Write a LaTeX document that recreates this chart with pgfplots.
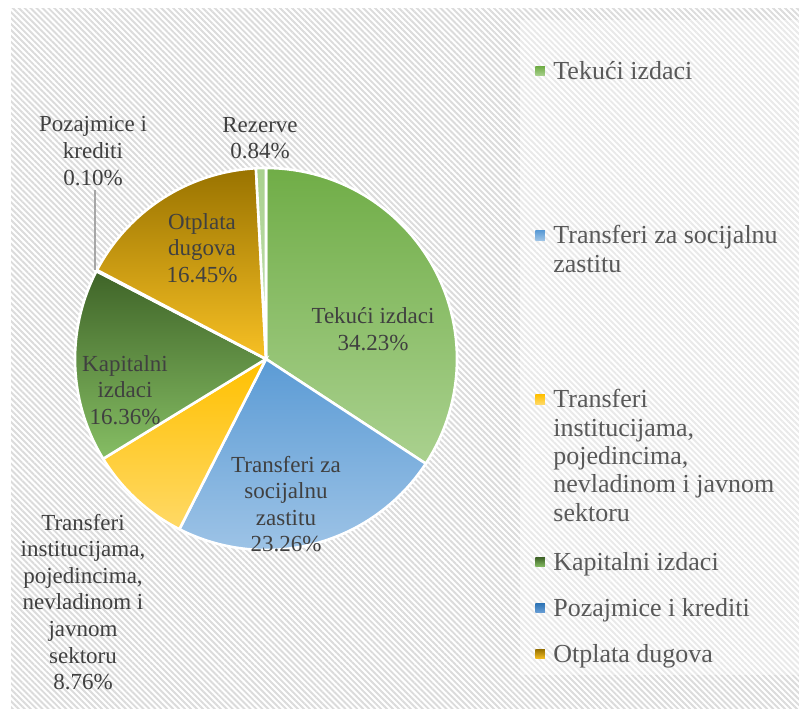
\documentclass[border=0pt]{standalone}
\usepackage{fontspec}
\setmainfont{Liberation Serif}
\usepackage{pgfplots}
\pgfplotsset{compat=1.18}
\usepackage{pgfplotstable}
\usetikzlibrary{patterns.meta}

\definecolor{txt}{HTML}{404040}
\definecolor{legtxt}{HTML}{595959}
\definecolor{lead}{HTML}{A6A6A6}
\definecolor{grA}{HTML}{70AD47}\definecolor{grAb}{HTML}{AAD18F}
\definecolor{blA}{HTML}{5B9BD5}\definecolor{blAb}{HTML}{9DC3E6}
\definecolor{yeA}{HTML}{FFC000}\definecolor{yeAb}{HTML}{FFD966}
\definecolor{dgA}{HTML}{3F6428}\definecolor{dgAb}{HTML}{86BE64}
\definecolor{dbA}{HTML}{2E75B6}\definecolor{dbAb}{HTML}{6A9FD6}
\definecolor{ogA}{HTML}{997300}\definecolor{ogAb}{HTML}{F7C024}
\definecolor{lgA}{HTML}{A9D18E}\definecolor{lgAb}{HTML}{C5E0B4}

% shares in percent, clockwise from 12 o'clock
\pgfplotstableread{
name        val
Tekuci      34.23
TransSoc    23.26
TransInst   8.76
Kapitalni   16.36
Pozajmice   0.10
Otplata     16.45
Rezerve     0.84
}\piedata

% pie centre and radius (axis units = reference pixels)
\def\cx{266}\def\cy{349}\def\rr{191}

\newcommand\doslice[4]{%
  \addplot[draw=white, line width=1.3pt, top color=#3, bottom color=#4,
    domain=#1:#2, samples=60]
    ({\cx+\rr*cos(x)},{\cy+\rr*sin(x)}) -- (axis cs:\cx,\cy) -- cycle;
}
\newcommand\slice[3]{%
  \edef\next{\noexpand\doslice{\csname pE#1\endcsname}{\csname pS#1\endcsname}}%
  \next{#2}{#3}%
}

\begin{document}
\begin{tikzpicture}
\def\acc{90}%
\foreach \i in {0,...,6}{%
  \pgfplotstablegetelem{\i}{val}\of\piedata
  \pgfmathsetmacro\e{\acc-3.6*\pgfplotsretval}%
  \expandafter\xdef\csname pS\i\endcsname{\acc}%
  \expandafter\xdef\csname pE\i\endcsname{\e}%
  \xdef\acc{\e}%
}%
\begin{scope}[x=0.5pt,y=0.5pt]
  \fill[white] (0,0) rectangle (799,708);
  \fill[pattern={Lines[angle=-45,distance=2.1pt,line width=0.95pt]}, pattern color=black!14]
    (11,0) rectangle (799,699);
  \fill[white, opacity=0.4] (520,33) rectangle (799,688);
\end{scope}
\begin{axis}[
  at={(0,0)}, anchor=south west,
  scale only axis, width=399.5pt, height=354pt,
  xmin=0, xmax=799, ymin=0, ymax=708,
  hide axis, clip=false,
  legend image code/.code={\path[#1, draw=none] (0pt,1.8pt) rectangle (4.7pt,6.5pt);},
  legend style={at={(axis cs:535,647)}, anchor=north west, draw=none, fill=none,
    inner sep=0pt, column sep=4.3pt, row sep=0pt,
    font=\fontsize{13}{14.2}\selectfont, text=legtxt,
    cells={anchor=base west}, nodes={inner sep=0pt, text depth=}},
]
\slice{0}{grA}{grAb}
\addlegendentry{\parbox[t][82pt][t]{120pt}{Tekući izdaci}}
\slice{1}{blA}{blAb}
\addlegendentry{\parbox[t][82pt][t]{120pt}{Transferi za socijalnu\\zastitu}}
\slice{2}{yeA}{yeAb}
\addlegendentry{\parbox[t][81.5pt][t]{120pt}{Transferi\\institucijama,\\pojedincima,\\nevladinom i javnom\\sektoru}}
\slice{3}{dgA}{dgAb}
\addlegendentry{\parbox[t][23pt][t]{120pt}{Kapitalni izdaci}}
\slice{4}{dbA}{dbAb}
\addlegendentry{\parbox[t][23pt][t]{120pt}{Pozajmice i krediti}}
\slice{5}{ogA}{ogAb}
\addlegendentry{\parbox[t][10pt][t]{120pt}{Otplata dugova}}
\slice{6}{lgA}{lgAb}
% leader line of the small slice
\addplot[lead, line width=0.8pt, forget plot] coordinates {(95,518) (95,438)};

\begin{scope}[every node/.style={align=center, text=txt, font=\fontsize{11.5}{13.3}\selectfont}]
\node at (axis cs:93,557) {Pozajmice i\\krediti\\0.10\%};
\node at (axis cs:260,570) {Rezerve\\0.84\%};
\node at (axis cs:202,460) {Otplata\\dugova\\16.45\%};
\node at (axis cs:373,379) {Tekući izdaci\\34.23\%};
\node at (axis cs:125,318) {Kapitalni\\izdaci\\16.36\%};
\node at (axis cs:286,204) {Transferi za\\socijalnu\\zastitu\\23.26\%};
\node at (axis cs:83,106) {Transferi\\institucijama,\\pojedincima,\\nevladinom i\\javnom\\sektoru\\8.76\%};
\end{scope}
\end{axis}
\end{tikzpicture}
\end{document}
